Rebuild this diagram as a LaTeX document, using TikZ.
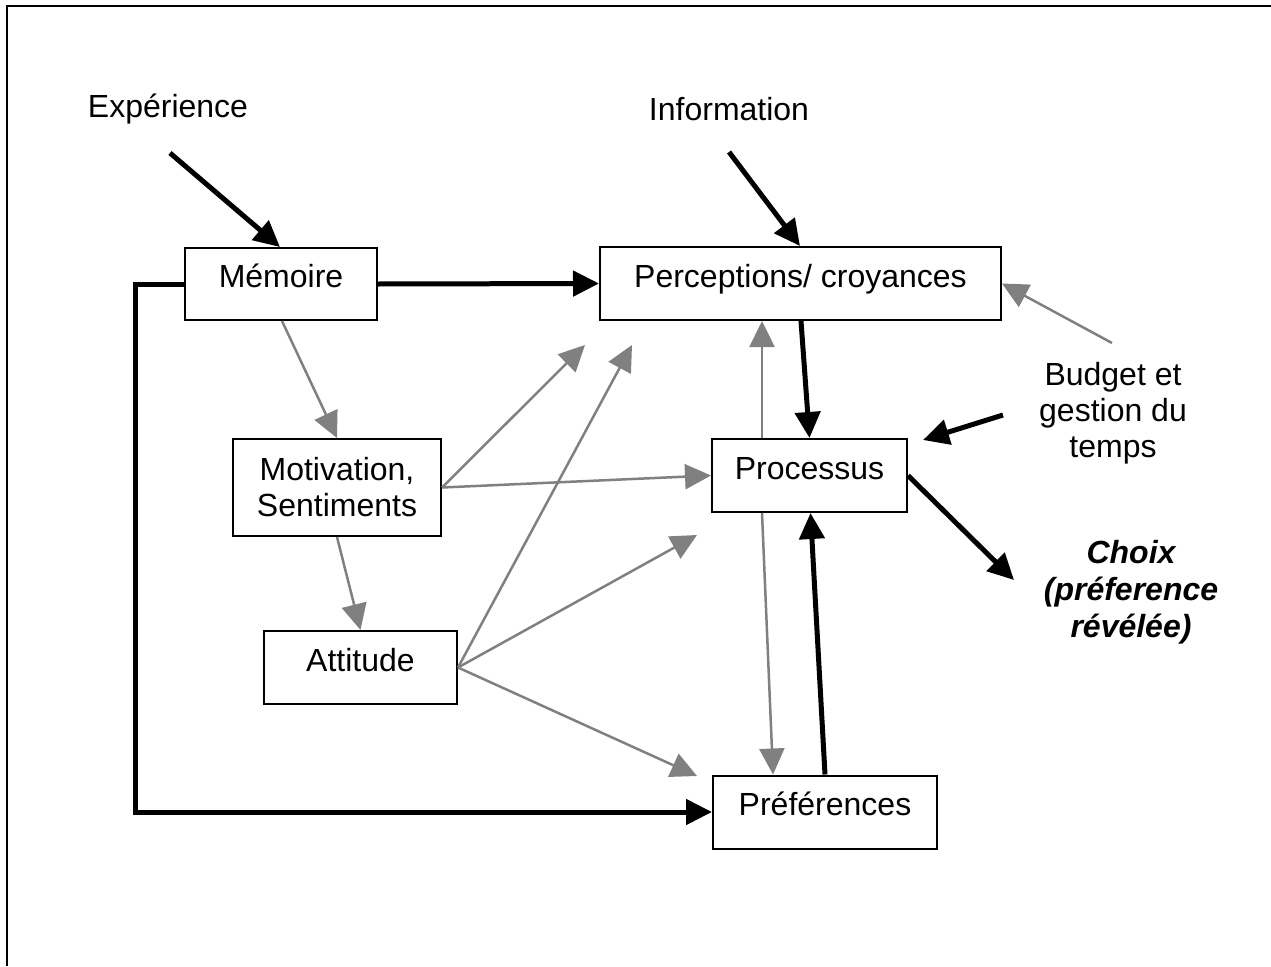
\documentclass[tikz,border=0pt]{standalone}
\usepackage{fontspec}
\setmainfont{Liberation Sans}
\usetikzlibrary{arrows.meta}
\definecolor{linegray}{RGB}{128,128,128}
\begin{document}
\begin{tikzpicture}[x=1pt,y=-1pt,
  font=\fontsize{32}{36}\selectfont,
  box/.style={draw=black, line width=2pt, inner sep=0pt, fill=white,
    text height=23pt, text depth=16pt},
  label/.style={align=center, inner sep=0pt},
  heavy/.style={draw=black, line width=5pt, -{Triangle[length=26pt,width=25pt]}},
  light/.style={draw=linegray, line width=2.5pt, -{Triangle[length=26pt,width=25pt]}}]
\useasboundingbox (0,0) rectangle (1271,966);
% frame
\draw[line width=2.5pt] (7,966) -- (7,6) -- (1271,6);

% boxes
\node[box, minimum width=192pt, minimum height=72pt] (mem) at (281,284) {Mémoire};
\node[box, minimum width=401pt, minimum height=73pt] (perc) at (800.5,283.5) {Perceptions/ croyances};
\node[draw=black, line width=2pt, inner sep=0pt, align=center,
      minimum width=208pt, minimum height=97pt] (mot) at (337,487.5) {Motivation,\\Sentiments};
\node[box, minimum width=193pt, minimum height=73pt] (att) at (360.5,667.5) {Attitude};
\node[box, minimum width=195pt, minimum height=73pt] (proc) at (809.5,475.5) {Processus};
\node[box, minimum width=224pt, minimum height=73pt] (pref) at (825,812) {Préférences};

% free text
\node[label] (exp) at (168,109) {Expérience};
\node[label] (info) at (729,109) {Information};
\node[label] (budget) at (1113,413) {Budget et\\gestion du\\temps};
\node[label, font=\fontsize{32}{37}\selectfont\bfseries\itshape] (choix) at (1131,592)
  {Choix\\(préference\\révélée)};

% free arrow ends
\coordinate (e1) at (170,153);
\coordinate (i1) at (729,152);
\coordinate (g1) at (585,345);
\coordinate (g2) at (632,345);
\coordinate (g3) at (697,535);
\coordinate (g4) at (697,776);
\coordinate (b1) at (1112,343);
\coordinate (b2) at (1003,415);
\coordinate (b3) at (923,440);
\coordinate (c1) at (1014,580);

% heavy connectors
\draw[heavy] (e1) -- ([xshift=-1pt]mem.north);
\draw[heavy] (i1) -- ([xshift=-0.5pt]perc.north);
\draw[heavy] (mem.east) -- (perc.west);
\draw[heavy] (mem.west) -- ++(-49,0) |- (pref.west);
\draw[heavy] ([xshift=0.5pt]perc.south) -- (proc.north);
\draw[heavy] (pref.north) -- ([xshift=1pt]proc.south);
\draw[heavy] (b2) -- (b3);
\draw[heavy] (proc.east) -- (c1);

% light connectors
\draw[light] ([xshift=1pt]mem.south) -- (mot.north);
\draw[light] (mot.south) -- (att.north);
\draw[light] (mot.east) -- (g1);
\draw[light] (mot.east) -- (proc.west);
\draw[light] (att.east) -- (g2);
\draw[light] (att.east) -- (g3);
\draw[light] (att.east) -- (g4);
\draw[light] ([xshift=-47.5pt]proc.north) -- ([xshift=-38.5pt]perc.south);
\draw[light] ([xshift=-47.5pt]proc.south) -- ([xshift=-52pt]pref.north);
\draw[light] (b1) -- (perc.east);
\end{tikzpicture}
\end{document}
